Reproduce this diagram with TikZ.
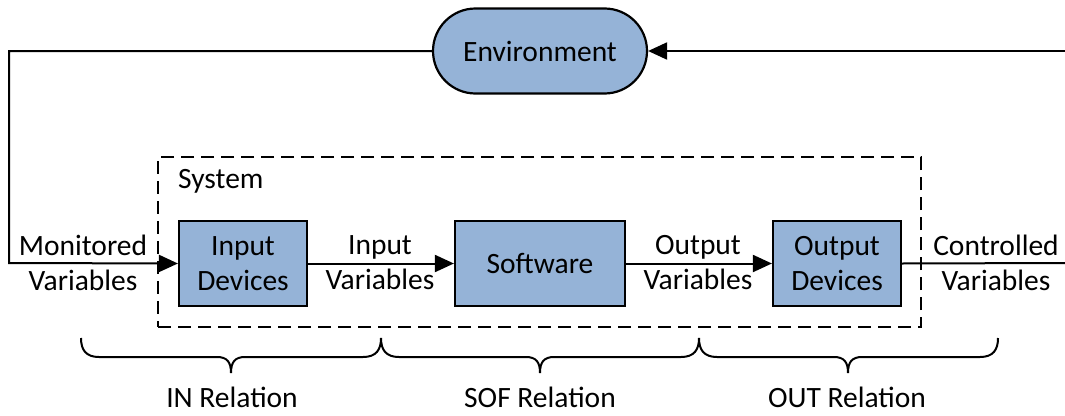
\documentclass[tikz,border=0pt]{standalone}
\usepackage{fontspec}
\setmainfont{Carlito}
\usetikzlibrary{arrows.meta,shapes.misc}
\definecolor{boxblue}{RGB}{149,179,215}

% curly brace under a span: left end, tip, right end
\newcommand\relbrace[3]{%
  \draw[brc] (#1,338) .. controls (#1,350) and (#1+5,357) .. (#1+18,357)
    -- (#2-14,357) .. controls (#2-4,357) and (#2,362) .. (#2,373)
    .. controls (#2,362) and (#2+4,357) .. (#2+14,357)
    -- (#3-18,357) .. controls (#3-5,357) and (#3,350) .. (#3,338);}

\begin{document}
\begin{tikzpicture}[x=1pt,y=-1pt,
  every node/.style={font=\fontsize{29.5}{35}\selectfont, inner sep=0pt},
  block/.style={draw, line width=2.2pt, fill=boxblue, align=center, minimum height=85pt},
  envshape/.style={draw, line width=2.2pt, fill=boxblue, rounded rectangle,
    minimum width=214pt, minimum height=85pt},
  lbl/.style={align=center},
  conn/.style={line width=2pt},
  arr/.style={conn, -{Triangle[length=19pt,width=17pt]}},
  sysbox/.style={draw, line width=2pt, dash pattern=on 13pt off 7pt},
  brc/.style={line width=2pt}]
\useasboundingbox (0,0) rectangle (1065,415);

% system boundary
\node[sysbox, minimum width=763pt, minimum height=170pt] (sys) at (539.5,242) {};
\node[anchor=base west] (systxt) at (178,188) {System};

% environment and blocks
\node[envshape] (env) at (540,51) {Environment};
\node[block, minimum width=128pt] (indev) at (243,263.5) {Input\\Devices};
\node[block, minimum width=170pt] (sw) at (540,263.5) {Software};
\node[block, minimum width=128pt] (outdev) at (837,263.5) {Output\\Devices};

% free ends and corners of the feedback loop
\coordinate (ltop) at (9,51);
\coordinate (lbot) at (9,263);
\coordinate (rtop) at (1065,51);
\coordinate (rbot) at (1065,263);

% connectors
\draw[arr] (env.west) -- (ltop) -- (lbot) -- (indev.west);
\draw[arr] (indev.east) -- (sw.west);
\draw[arr] (sw.east) -- (outdev.west);
\draw[conn] (outdev.east) -- (rbot);
\draw[arr] (rtop) -- (env.east);

% variable labels
\node[lbl] (mon) at (83,263) {Monitored\\Variables};
\node[lbl] (inv) at (380,263) {Input\\Variables};
\node[lbl] (outv) at (698,263) {Output\\Variables};
\node[lbl] (ctl) at (996,263) {Controlled\\Variables};

% relation braces
\relbrace{81}{231}{381}
\relbrace{381}{540}{699}
\relbrace{699}{848}{998}
\node[anchor=base] (inrel) at (232,407) {IN Relation};
\node[anchor=base] (sofrel) at (540,407) {SOF Relation};
\node[anchor=base] (outrel) at (847,407) {OUT Relation};
\end{tikzpicture}
\end{document}
